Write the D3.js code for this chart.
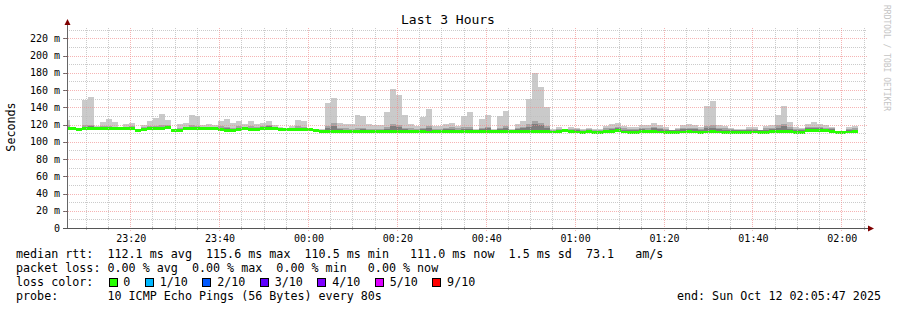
<!DOCTYPE html>
<html>
<head>
<meta charset="utf-8">
<script src="https://cdn.jsdelivr.net/npm/d3@7"></script>
<style>
  body { margin: 0; background: #fff; }
  svg { display: block; }
  text { font-family: "DejaVu Sans Mono", monospace; fill: #000; white-space: pre; }
</style>
</head>
<body>
<div id="chart"></div>
<script>
// one value per 80s step (ms)
const medianRtt = [
  115.2,115.0,114.8,115.0,115.2,115.0,115.2,115.0,115.2,115.0,115.4,115.2,113.5,114.8,115.0,115.2,115.0,116.2,113.6,113.5,
  115.0,115.2,115.0,115.0,115.3,115.0,114.8,113.6,113.5,114.8,115.0,114.4,114.6,115.8,115.8,115.6,114.2,114.2,114.4,114.2,
  114.3,114.0,112.8,112.0,112.2,112.4,112.0,111.8,112.0,111.8,112.0,111.7,111.8,112.0,111.8,112.2,112.0,111.8,111.6,111.8,
  111.5,111.4,111.6,111.8,112.0,112.0,111.8,111.7,111.8,111.6,111.8,111.9,111.5,111.8,112.0,111.6,111.8,112.0,111.8,112.0,
  112.2,111.8,111.4,111.6,112.6,111.6,111.4,111.3,111.5,111.3,111.3,111.5,111.6,112.6,111.4,111.3,111.3,111.5,111.5,111.6,
  111.4,111.3,111.3,111.3,111.4,111.5,111.4,111.3,111.4,111.5,111.4,111.3,111.3,111.2,111.3,111.3,111.4,111.2,111.3,111.5,
  111.6,111.8,111.5,111.3,111.3,112.6,112.8,112.8,112.6,112.4,111.3,111.3,111.4,111.5
];
const maxRtt = [
  125,117,116,148.6,152,118,123,126.6,123,117,121,122,115,119.6,124,127.8,132,125,115,121,
  122,131,130,119.6,121,119.6,124,126.6,122,124,121,124,121,122,124,119.6,117,116,118.5,125,
  124,116,115,115,145,151,122,121,121,131,130,121,119.6,119.6,134.7,161.4,154.5,131,121,118.5,
  129,138,118.5,118.5,121,122,118.5,130,134.7,115,126.6,131,115,130,136,115,121,124,150,180,
  163.8,140.5,115,117,115,117,116,115,116,115,115,118.5,121,122,118.5,117,117,119.6,119.6,122,
  119.6,117,114,116,119.6,121,119.6,117,141.7,147.5,119.6,118.5,116,115,115,117,117,114,118.5,119.6,
  131,141.7,123,117,116,121,123,121,119.6,117,113,113,117,118
];
const upperRtt = [
  119,116.5,115.8,119,120,117,118,118.5,117.5,116.5,117.5,118.5,114.8,117,118,118.5,119,119,114.8,116,
  117.5,119,118.5,117,117.5,117,118,117,116.5,118,117.5,118,117.5,118.5,119,117.5,116,115.8,116.5,118,
  117.5,115.6,114.5,114,118,122,116,115.5,115,116,116.5,115,114.5,115,117,121,120,116,115.5,115,
  116,118,115,115,116,117,115.5,117,117.5,114,116,117,114,116.5,118,114.2,116,117.5,121,124,
  122,118,114,115,114.6,115,114.5,114,114.5,114,114,115.5,116,117,115.5,115,115,116,116,117.5,
  116,115,113.6,114.5,116,116.5,116,115,118,119,116,115.5,114.5,114,114,115,115,113.6,115.5,116.5,
  119,121,117,115,114.5,117,117.5,117,116.5,115.5,112.9,112.9,115,115.5
];
const innerRtt = [
  117,116,115.5,117.5,118,116.5,116.5,117,116.5,116,116.5,117,114.5,116,116.8,117,117.5,118,114.5,115,
  116.5,117.5,117,116.2,116.5,116,116.5,115.5,115,116.5,116.5,116.5,116,117.5,118,117,115.5,115.3,115.8,116.5,
  116,115.2,114,113.5,116,118,114.5,114,113.8,114,114.5,113.5,113.5,113.8,115,118,117,114.5,114,113.5,
  114.5,115.5,113.5,113.8,114.5,115,114,115,115,113.2,114.5,115.5,113,114.5,115.5,113.2,114.5,115.5,117.5,121,
  119,115.5,113,113.8,114.2,113.8,113.5,113,113.5,113,113,114,114.5,115.5,114,113.8,113.5,114.5,114,115.5,
  114.5,113.8,113.2,113.5,114.5,114.8,114.5,113.8,116,116.5,114.5,114,113.5,113.2,113.2,113.8,113.8,113.2,114,114.8,
  116.5,118,115,113.8,113.5,115.5,116,115.5,115,114.5,112.8,112.8,113.8,114
];

const yTicks = [0, 20, 40, 60, 80, 100, 120, 140, 160, 180, 200, 220];
const lossLabels = ["0", "1/10", "2/10", "3/10", "4/10", "5/10", "9/10"];
const lossColors = ["#26ff00", "#00b8ff", "#0059ff", "#5e00ff", "#7e00ff", "#dd00ff", "#ff0000"];
const smokeColors = ["#cacaca", "#a4a4a4", "#7e7e7e"];

const stepSeconds = 80;
const firstStep = new Date(2025, 9, 11, 23, 5, 9);
const startTime = new Date(2025, 9, 11, 23, 5, 47);
const endTime = new Date(2025, 9, 12, 2, 5, 47);

const titleText = "Last 3 Hours";
const statsMedian = "median rtt:  112.1 ms avg  115.6 ms max  110.5 ms min   111.0 ms now  1.5 ms sd  73.1   am/s";
const statsLoss = "packet loss: 0.00 % avg  0.00 % max  0.00 % min   0.00 % now";
const probeText = "probe:       10 ICMP Echo Pings (56 Bytes) every 80s";

function graphSmoke() {
  let margin = { top: 28, left: 67 },
      width = 800,
      height = 200,
      bandHalf = 1.7,
      minorColor = "rgba(190,190,190,0.8)",
      majorColor = "rgba(240,140,140,0.65)";

  function chart(selector) {
    const svg = d3.select(selector)
      .append("svg")
      .attr("width", 897)
      .attr("height", 310);

    const x = d3.scaleTime().domain([startTime, endTime]).range([margin.left, margin.left + width]);
    const y = d3.scaleLinear().domain([0, 232]).range([margin.top + height, margin.top]);

    const steps = medianRtt.map((m, i) => ({
      t: new Date(firstStep.getTime() + i * stepSeconds * 1000),
      m: m, max: maxRtt[i], up: upperRtt[i], inner: innerRtt[i]
    }));
    const last = steps[steps.length - 1];
    steps.push(Object.assign({}, last, { t: new Date(last.t.getTime() + stepSeconds * 1000) }));

    svg.append("clipPath").attr("id", "plot-clip")
      .append("rect")
      .attr("x", margin.left).attr("y", margin.top)
      .attr("width", width).attr("height", height);

    const plot = svg.append("g").attr("clip-path", "url(#plot-clip)");

    // smoke layers, lightest first
    const layerKeys = ["max", "up", "inner"];
    layerKeys.forEach((k, i) => {
      const area = d3.area()
        .curve(d3.curveStepAfter)
        .x(d => x(d.t))
        .y0(d => y(d.m))
        .y1(d => y(d[k]));
      plot.append("path")
        .datum(steps)
        .attr("d", area)
        .attr("fill", smokeColors[i])
        .attr("shape-rendering", "crispEdges");
    });

    // median band, coloured by loss (all 0 here)
    const band = d3.area()
      .curve(d3.curveStepAfter)
      .x(d => x(d.t))
      .y0(d => y(d.m - bandHalf))
      .y1(d => y(d.m + bandHalf));
    plot.append("path")
      .datum(steps)
      .attr("d", band)
      .attr("fill", lossColors[0])
      .attr("shape-rendering", "crispEdges");

    // grid on top, like rrdtool
    const grid = svg.append("g").attr("shape-rendering", "crispEdges");
    const minorY = d3.range(10, 232, 10).filter(v => v % 20 !== 0);
    const majorY = yTicks.filter(v => v > 0);
    const minorX = d3.timeMinute.every(5).range(startTime, endTime).filter(d => d.getMinutes() % 20 !== 0);
    const majorX = d3.timeMinute.every(20).range(startTime, endTime);

    grid.selectAll(".hminor").data(minorY).enter().append("line")
      .attr("x1", margin.left).attr("x2", margin.left + width)
      .attr("y1", d => Math.round(y(d)) + 0.5).attr("y2", d => Math.round(y(d)) + 0.5)
      .attr("stroke", minorColor).attr("stroke-dasharray", "1,1");
    grid.selectAll(".vminor").data(minorX).enter().append("line")
      .attr("x1", d => Math.round(x(d)) + 0.5).attr("x2", d => Math.round(x(d)) + 0.5)
      .attr("y1", margin.top).attr("y2", margin.top + height)
      .attr("stroke", minorColor).attr("stroke-dasharray", "1,1");
    grid.selectAll(".hmajor").data(majorY).enter().append("line")
      .attr("x1", margin.left - 3).attr("x2", margin.left + width)
      .attr("y1", d => Math.round(y(d)) + 0.5).attr("y2", d => Math.round(y(d)) + 0.5)
      .attr("stroke", majorColor).attr("stroke-dasharray", "1,1");
    grid.selectAll(".vmajor").data(majorX).enter().append("line")
      .attr("x1", d => Math.round(x(d)) + 0.5).attr("x2", d => Math.round(x(d)) + 0.5)
      .attr("y1", margin.top).attr("y2", margin.top + height + 3)
      .attr("stroke", majorColor).attr("stroke-dasharray", "1,1");

    // tick marks
    grid.selectAll(".ytick").data(yTicks).enter().append("line")
      .attr("x1", margin.left - 4).attr("x2", margin.left)
      .attr("y1", d => Math.round(y(d)) + 0.5).attr("y2", d => Math.round(y(d)) + 0.5)
      .attr("stroke", "rgba(0,0,0,0.5)");
    grid.selectAll(".xtick").data(minorX).enter().append("line")
      .attr("x1", d => Math.round(x(d)) + 0.5).attr("x2", d => Math.round(x(d)) + 0.5)
      .attr("y1", margin.top + height - 1).attr("y2", margin.top + height + 2)
      .attr("stroke", "rgba(170,170,170,0.8)");

    // axes with arrows
    const ax = svg.append("g").attr("shape-rendering", "crispEdges");
    const x0 = margin.left + 0.5, yb = margin.top + height + 0.5;
    ax.append("line").attr("x1", x0).attr("x2", x0).attr("y1", yb).attr("y2", margin.top - 4)
      .attr("stroke", "#666");
    ax.append("line").attr("x1", margin.left - 4).attr("x2", margin.left + width + 4).attr("y1", yb).attr("y2", yb)
      .attr("stroke", "#555");
    svg.append("path")
      .attr("d", `M${x0 - 3},${margin.top - 3} L${x0},${margin.top - 9} L${x0 + 3},${margin.top - 3} Z`)
      .attr("fill", "#7f0000");
    svg.append("path")
      .attr("d", `M${margin.left + width + 1},${yb - 3} L${margin.left + width + 7},${yb} L${margin.left + width + 1},${yb + 3} Z`)
      .attr("fill", "#7f0000");

    // y labels
    svg.selectAll(".ylab").data(yTicks).enter().append("text")
      .attr("x", 60).attr("y", d => y(d) + 3.6)
      .attr("text-anchor", "end")
      .attr("font-size", "10px")
      .text(d => d === 0 ? "0" : d + " m");

    // x labels
    svg.selectAll(".xlab").data(majorX).enter().append("text")
      .attr("x", d => x(d) + 1).attr("y", 241.5)
      .attr("text-anchor", "middle")
      .attr("font-size", "10px")
      .text(d => d3.timeFormat("%H:%M")(d));

    svg.append("text")
      .attr("x", 448).attr("y", 24)
      .attr("text-anchor", "middle")
      .attr("font-size", "13px")
      .text(titleText);

    svg.append("text")
      .attr("transform", "translate(15,127) rotate(-90)")
      .attr("text-anchor", "middle")
      .attr("font-size", "11.7px")
      .text("Seconds");

    svg.append("text")
      .attr("transform", "translate(884,5) rotate(90)")
      .attr("font-size", "8px")
      .style("fill", "#c4c4c4")
      .text("RRDTOOL / TOBI OETIKER");

    // legend
    const legend = svg.append("g").attr("font-size", "11.7px");
    legend.append("text").attr("x", 16).attr("y", 258).text(statsMedian);
    legend.append("text").attr("x", 16).attr("y", 272).text(statsLoss);
    legend.append("text").attr("x", 16).attr("y", 286).text("loss color:");
    legend.append("text").attr("x", 16).attr("y", 300).text(probeText);
    legend.append("text").attr("x", 881).attr("y", 300).attr("text-anchor", "end")
      .text("end: " + d3.timeFormat("%a %b %d %H:%M:%S %Y")(endTime));

    let bx = 108.5;
    lossLabels.forEach((lab, i) => {
      legend.append("rect")
        .attr("x", bx + 0.5).attr("y", 278.5)
        .attr("width", 8).attr("height", 8)
        .attr("fill", lossColors[i])
        .attr("stroke", "#000").attr("stroke-width", 1)
        .attr("shape-rendering", "crispEdges");
      legend.append("text").attr("x", bx + 14.8).attr("y", 286).text(lab);
      bx += 14.8 + lab.length * 7.02 + 14.6;
    });
  }

  return chart;
}

graphSmoke()("#chart");
</script>
</body>
</html>
